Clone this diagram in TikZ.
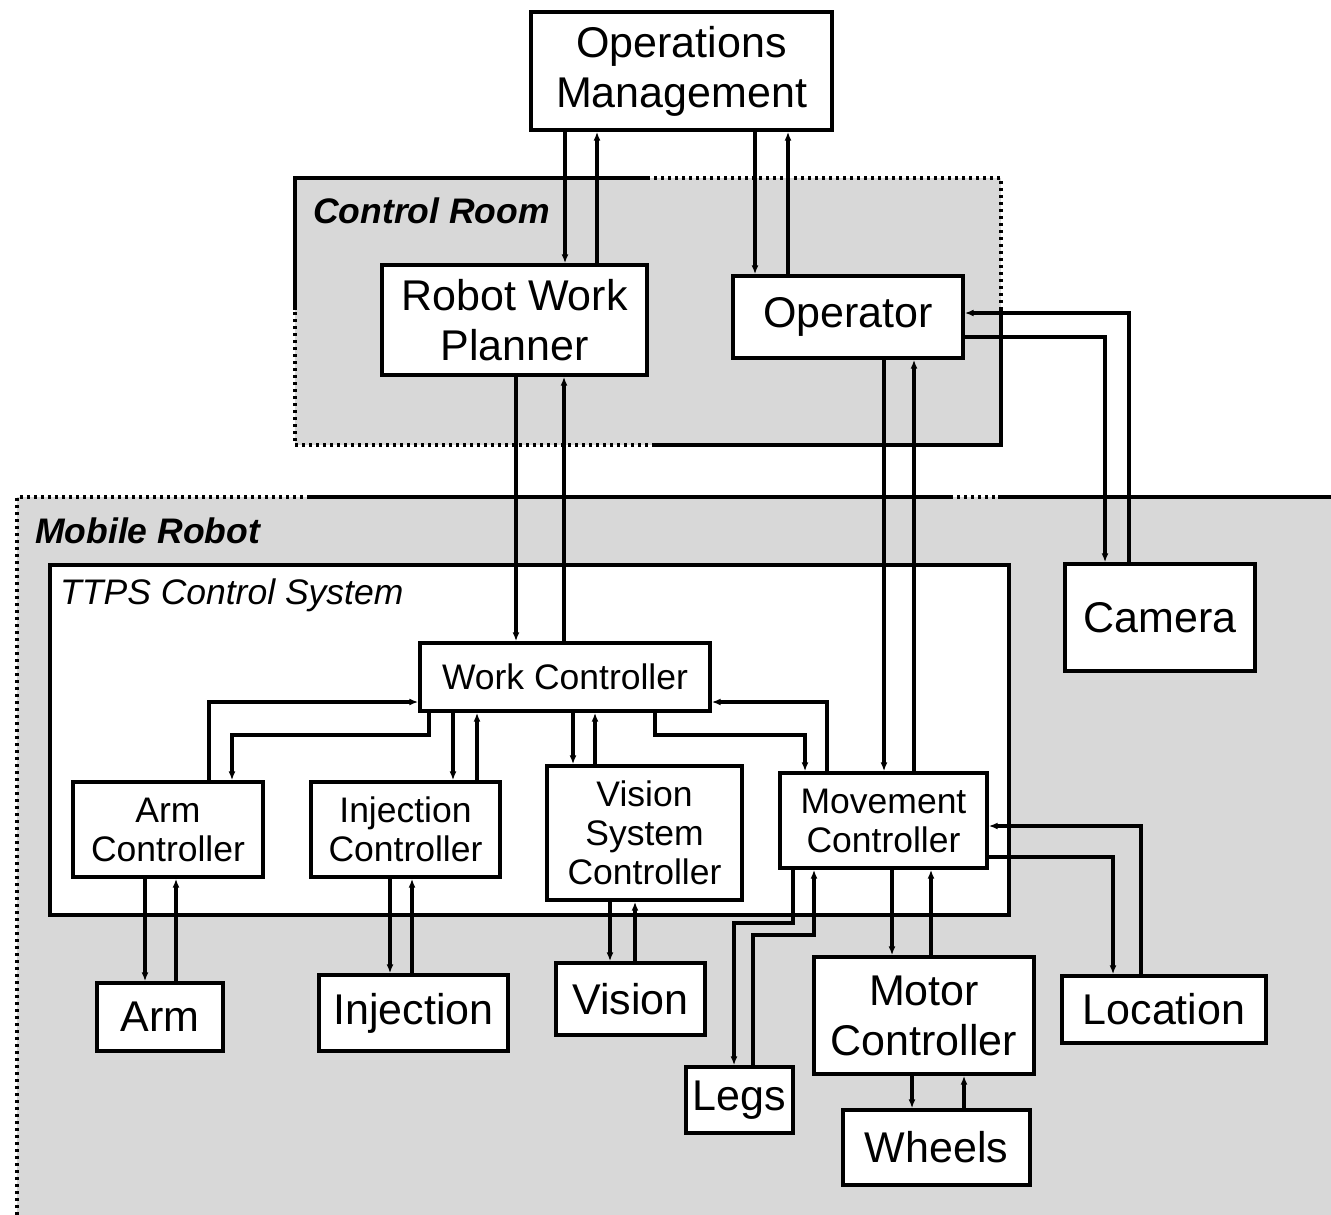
\documentclass[tikz,border=0pt]{standalone}
\usepackage{fontspec}
\setmainfont{Liberation Sans}
\usetikzlibrary{arrows.meta}
\definecolor{regiongray}{RGB}{216,216,216}
\begin{document}
\begin{tikzpicture}[x=1pt,y=-1pt,
  box/.style={draw, line width=3.4pt, fill=white, inner sep=0pt, align=center,
              font=\fontsize{43}{50}\selectfont},
  smallbox/.style={box, font=\fontsize{35.5}{39}\selectfont},
  flow/.style={line width=3.1pt, -{Latex[length=9pt,width=7pt]}},
  solidedge/.style={line width=3.2pt},
  dotedge/.style={line width=3.2pt, dash pattern=on 3pt off 4pt},
  regionlabel/.style={anchor=west, inner sep=0pt, font=\fontsize{35.5}{40}\selectfont\bfseries\itshape}
]
\useasboundingbox (0,0) rectangle (1331,1215);

% --- Mobile Robot region ---
\fill[regiongray] (17,497) rectangle (1331,1215);
\draw[dotedge] (17,1215) -- (17,497) -- (310,497);
\draw[solidedge] (310,497) -- (950,497);
\draw[dotedge] (950,497) -- (998,497);
\draw[solidedge] (998,497) -- (1331,497);
\node[regionlabel] (mrlabel) at (35,531) {Mobile Robot};

% --- Control Room region ---
\fill[regiongray] (295,178) rectangle (1001,445);
\draw[solidedge] (295,310) -- (295,178) -- (647,178);
\draw[dotedge] (647,178) -- (1001,178) -- (1001,307);
\draw[solidedge] (1001,307) -- (1001,445) -- (655,445);
\draw[dotedge] (655,445) -- (295,445) -- (295,310);
\node[regionlabel] (crlabel) at (313,211) {Control Room};

% --- TTPS Control System ---
\draw[line width=3.4pt, fill=white] (50,565) rectangle (1009,915);
\node[anchor=west, inner sep=0pt, font=\fontsize{35.5}{40}\selectfont\itshape] (ttpslabel) at (60,595) {TTPS Control System};

% --- Boxes ---
\node[box, minimum width=301pt, minimum height=118pt] (om) at (681.5,71) {Operations\\Management};
\node[box, minimum width=265pt, minimum height=110pt] (rwp) at (514.5,320) {Robot Work\\Planner};
\node[box, minimum width=230pt, minimum height=82pt] (op) at (848,317) {Operator};
\node[box, minimum width=190pt, minimum height=107pt] (cam) at (1160,617.5) {Camera};

\node[smallbox, minimum width=290pt, minimum height=68pt] (wc) at (565,677) {Work Controller};
\node[smallbox, minimum width=190pt, minimum height=95pt] (armc) at (168,829.5) {Arm\\Controller};
\node[smallbox, minimum width=189pt, minimum height=95pt] (injc) at (405.5,829.5) {Injection\\Controller};
\node[smallbox, minimum width=195pt, minimum height=134pt] (vsc) at (644.5,833) {Vision\\System\\Controller};
\node[smallbox, minimum width=207pt, minimum height=95pt] (mc) at (883.5,820.5) {Movement\\Controller};

\node[box, minimum width=126pt, minimum height=68pt] (arm) at (160,1017) {Arm};
\node[box, minimum width=189pt, minimum height=76pt] (inj) at (413.5,1013) {Injection};
\node[box, minimum width=149pt, minimum height=72pt] (vis) at (630.5,999) {Vision};
\node[box, minimum width=107pt, minimum height=66pt] (legs) at (739.5,1100) {Legs};
\node[box, minimum width=220pt, minimum height=117pt] (motc) at (924,1015.5) {Motor\\Controller};
\node[box, minimum width=187pt, minimum height=75pt] (wheels) at (936.5,1147.5) {Wheels};
\node[box, minimum width=204pt, minimum height=67pt] (loc) at (1164,1009.5) {Location};

% --- Connectors ---
% operations management <-> planner / operator
\draw[flow] (om.south -| 565,0) -- (rwp.north -| 565,0);
\draw[flow] (rwp.north -| 597,0) -- (om.south -| 597,0);
\draw[flow] (om.south -| 755,0) -- (op.north -| 755,0);
\draw[flow] (op.north -| 788,0) -- (om.south -| 788,0);

% planner <-> work controller
\draw[flow] (rwp.south -| 516,0) -- (wc.north -| 516,0);
\draw[flow] (wc.north -| 564,0) -- (rwp.south -| 564,0);

% operator <-> movement controller
\draw[flow] (op.south -| 884,0) -- (mc.north -| 884,0);
\draw[flow] (mc.north -| 914,0) -- (op.south -| 914,0);

% operator <-> camera
\draw[flow] (cam.north -| 1129,0) |- (op.east |- 0,313);
\draw[flow] (op.east |- 0,337) -| (cam.north -| 1105,0);

% work controller <-> arm controller
\draw[flow] (armc.north -| 209,0) |- (wc.west |- 0,702);
\draw[flow] (wc.south -| 429,0) |- (232,735) -- (armc.north -| 232,0);

% work controller <-> injection controller
\draw[flow] (wc.south -| 453,0) -- (injc.north -| 453,0);
\draw[flow] (injc.north -| 477,0) -- (wc.south -| 477,0);

% work controller <-> vision system controller
\draw[flow] (wc.south -| 573,0) -- (vsc.north -| 573,0);
\draw[flow] (vsc.north -| 595,0) -- (wc.south -| 595,0);

% work controller <-> movement controller
\draw[flow] (mc.north -| 827,0) |- (wc.east |- 0,702);
\draw[flow] (wc.south -| 655,0) |- (805,735) -- (mc.north -| 805,0);

% movement controller <-> location
\draw[flow] (loc.north -| 1141,0) |- (mc.east |- 0,826);
\draw[flow] (mc.east |- 0,857) -| (loc.north -| 1113,0);

% movement controller <-> legs
\draw[flow] (mc.south -| 793,0) |- (734,923) -- (legs.north -| 734,0);
\draw[flow] (legs.north -| 753,0) |- (814,935) -- (mc.south -| 814,0);

% movement controller <-> motor controller
\draw[flow] (mc.south -| 892,0) -- (motc.north -| 892,0);
\draw[flow] (motc.north -| 931,0) -- (mc.south -| 931,0);

% motor controller <-> wheels
\draw[flow] (motc.south -| 912,0) -- (wheels.north -| 912,0);
\draw[flow] (wheels.north -| 964,0) -- (motc.south -| 964,0);

% controllers <-> devices
\draw[flow] (armc.south -| 145,0) -- (arm.north -| 145,0);
\draw[flow] (arm.north -| 176,0) -- (armc.south -| 176,0);
\draw[flow] (injc.south -| 390,0) -- (inj.north -| 390,0);
\draw[flow] (inj.north -| 412,0) -- (injc.south -| 412,0);
\draw[flow] (vsc.south -| 610,0) -- (vis.north -| 610,0);
\draw[flow] (vis.north -| 635,0) -- (vsc.south -| 635,0);
\end{tikzpicture}
\end{document}
